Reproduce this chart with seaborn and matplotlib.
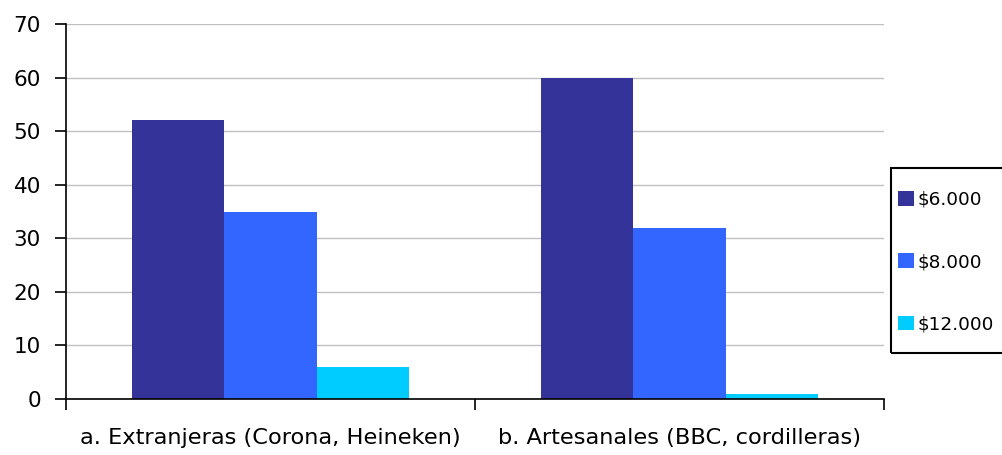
import matplotlib
matplotlib.use("Agg")
import matplotlib.pyplot as plt
from matplotlib.patches import Rectangle
import seaborn as sns
import pandas as pd

categories = ["a. Extranjeras (Corona, Heineken)", "b. Artesanales (BBC, cordilleras)"]
series_names = ["$6.000", "$8.000", "$12.000"]
values_6000 = [52, 60]
values_8000 = [35, 32]
values_12000 = [6, 1]
colors = ["#333399", "#3366FF", "#00CCFF"]
y_ticks = [0, 10, 20, 30, 40, 50, 60, 70]

rows = []
for name, vals in zip(series_names, [values_6000, values_8000, values_12000]):
    for cat, v in zip(categories, vals):
        rows.append({"categoria": cat, "precio": name, "valor": v})
df = pd.DataFrame(rows)

sns.set_theme(style="white")
plt.rcParams["font.family"] = ["DejaVu Sans"]
plt.rcParams["text.color"] = "black"

W, H = 1003, 455
fig = plt.figure(figsize=(W / 100, H / 100), dpi=100)
ax = fig.add_axes([66 / W, (H - 399) / H, (884 - 66) / W, (399 - 24) / H])

sns.barplot(data=df, x="categoria", y="valor", hue="precio", order=categories,
            hue_order=series_names, palette=colors, width=0.675, saturation=1,
            edgecolor="none", linewidth=0, ax=ax, legend=True)

ax.set_xlim(-0.5, 1.5)
ax.set_ylim(0, 70)
ax.set_yticks(y_ticks)
ax.set_xlabel("")
ax.set_ylabel("")
ax.yaxis.grid(True, color="#C0C0C0", linewidth=1.0)
ax.xaxis.grid(False)
ax.set_axisbelow(True)

for side in ("top", "right"):
    ax.spines[side].set_visible(False)
for side in ("left", "bottom"):
    ax.spines[side].set_color("black")
    ax.spines[side].set_linewidth(1.2)

# category labels centred on groups; tick marks at category boundaries
ax.set_xticks([-0.5, 0.5, 1.5], minor=True)
ax.tick_params(axis="x", which="major", length=0, pad=21, labelsize=16.2, labelcolor="black")
ax.tick_params(axis="x", which="minor", length=8, width=1.2, color="black", direction="out")
ax.tick_params(axis="y", which="major", length=8, width=1.2, color="black",
               direction="out", pad=10, labelsize=15.5, labelcolor="black")
ax.tick_params(left=True, bottom=True)
ax.xaxis.set_tick_params(which="minor", bottom=True)

handles, labels = ax.get_legend_handles_labels()
ax.get_legend().remove()
leg = fig.legend(handles, labels, loc="center left",
                 bbox_to_anchor=(898 / W, (H - 262) / H),
                 frameon=False, fontsize=13.3,
                 handlelength=0.85, handleheight=0.85, handletextpad=0.2,
                 labelspacing=2.4, borderpad=0, borderaxespad=0)
for t in leg.get_texts():
    t.set_color("black")

# legend frame, running off the right edge
fig.add_artist(Rectangle((891 / W, (H - 353) / H), 130 / W, (353 - 168) / H,
                         transform=fig.transFigure, fill=False,
                         edgecolor="black", linewidth=1.5, clip_on=False))

fig.savefig("out.png", dpi=100, facecolor="white")
